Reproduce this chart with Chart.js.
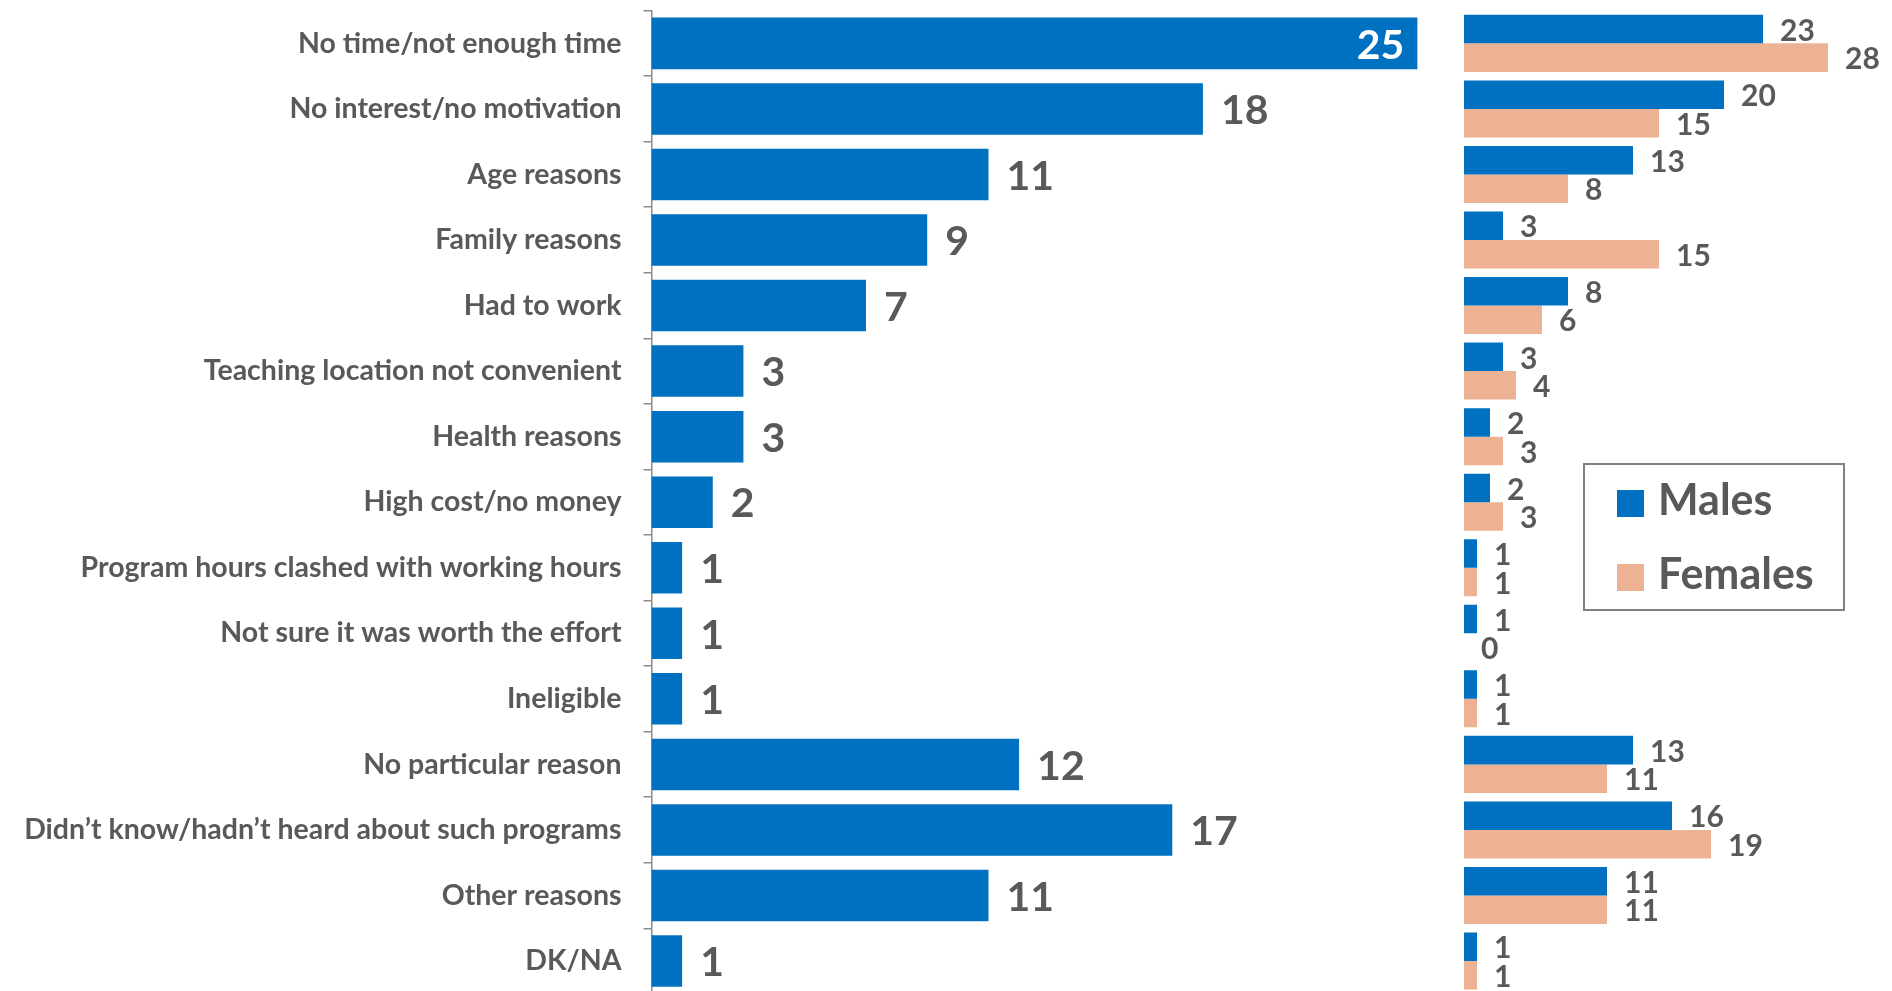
<!DOCTYPE html>
<html>
<head>
<meta charset="utf-8">
<script src="https://cdn.jsdelivr.net/npm/chart.js@4.4.1/dist/chart.umd.min.js"></script>
<style>
    html, body { margin: 0; padding: 0; background: #fff; overflow: hidden; }
    #wrap { position: relative; width: 1892px; height: 991px; overflow: hidden; }
    #totalChart { position: absolute; left: 0; top: 0; }
    #sexChart { position: absolute; left: 1444px; top: 0; }
    #legend {
        position: absolute; left: 1583px; top: 463px; width: 258px; height: 144px;
        border: 2px solid #808080; font-family: Lato, sans-serif; font-weight: bold;
        font-size: 43px; color: #595959;
    }
    #legend .item { position: absolute; left: 32px; height: 30px; line-height: 30px; }
    #legend .box { display: inline-block; width: 27px; height: 27px; vertical-align: middle; margin-right: 14px; }
</style>
</head>
<body>
<div id="wrap">
    <canvas id="totalChart" width="1448" height="1000"></canvas>
    <canvas id="sexChart" width="448" height="1000"></canvas>
    <div id="legend"></div>
</div>
<script>
const categories = [
    'No time/not enough time',
    'No interest/no motivation',
    'Age reasons',
    'Family reasons',
    'Had to work',
    'Teaching location not convenient',
    'Health reasons',
    'High cost/no money',
    'Program hours clashed with working hours',
    'Not sure it was worth the effort',
    'Ineligible',
    'No particular reason',
    'Didn’t know/hadn’t heard about such programs',
    'Other reasons',
    'DK/NA'
];
const totalValues = [25, 18, 11, 9, 7, 3, 3, 2, 1, 1, 1, 12, 17, 11, 1];
const maleValues = [23, 20, 13, 3, 8, 3, 2, 2, 1, 1, 1, 13, 16, 11, 1];
const femaleValues = [28, 15, 8, 15, 6, 4, 3, 3, 1, 0, 1, 11, 19, 11, 1];
const seriesNames = ['Males', 'Females'];

const blue = '#0070C0';
const peach = '#EDB294';
const grey = '#595959';

// value labels at the end of each bar (no datalabels plugin offline)
const valueLabels = {
    id: 'valueLabels',
    afterDatasetsDraw(chart, args, opts) {
        const ctx = chart.ctx;
        ctx.save();
        ctx.font = opts.font;
        ctx.textBaseline = 'middle';
        chart.data.datasets.forEach((ds, i) => {
            const meta = chart.getDatasetMeta(i);
            meta.data.forEach((bar, j) => {
                const txt = String(ds.data[j]);
                const w = ctx.measureText(txt).width;
                let x = bar.x + opts.offset;
                ctx.textAlign = 'left';
                ctx.fillStyle = grey;
                if (opts.inside && x + w > chart.chartArea.right) {
                    x = bar.x - opts.insidePad;
                    ctx.textAlign = 'right';
                    ctx.fillStyle = '#fff';
                }
                ctx.fillText(txt, x, bar.y + opts.dy);
            });
        });
        ctx.restore();
    }
};

Chart.defaults.font.family = 'Lato, sans-serif';
Chart.defaults.animation = false;

new Chart(document.getElementById('totalChart'), {
    type: 'bar',
    data: {
        labels: categories,
        datasets: [{ data: totalValues, backgroundColor: blue, barPercentage: 1, categoryPercentage: 0.786 }]
    },
    options: {
        indexAxis: 'y',
        responsive: false,
        layout: { padding: { top: 10.6, bottom: 6.2, left: 0, right: 0 } },
        plugins: {
            legend: { display: false },
            tooltip: { enabled: false },
            valueLabels: { font: 'bold 41px Lato', offset: 18, inside: true, insidePad: 13, dy: 2 }
        },
        scales: {
            x: { display: false, min: 0, max: 26 },
            y: {
                afterFit: s => { s.width = 651.5; s.paddingTop = 0; s.paddingBottom = 0; },
                grid: { drawOnChartArea: false, drawTicks: true, tickLength: 8, color: '#8c8c8c', lineWidth: 1.5 },
                border: { display: true, color: '#8c8c8c', width: 1.5 },
                ticks: { color: grey, padding: 22, font: { size: 28.5, weight: 'bold' } }
            }
        }
    },
    plugins: [valueLabels]
});

new Chart(document.getElementById('sexChart'), {
    type: 'bar',
    data: {
        labels: categories,
        datasets: [
            { label: seriesNames[0], data: maleValues, backgroundColor: blue, barPercentage: 1, categoryPercentage: 0.87 },
            { label: seriesNames[1], data: femaleValues, backgroundColor: peach, barPercentage: 1, categoryPercentage: 0.87 }
        ]
    },
    options: {
        indexAxis: 'y',
        responsive: false,
        layout: { padding: { top: 10.6, bottom: 6.2, left: 20, right: 38 } },
        plugins: {
            legend: { display: false },
            tooltip: { enabled: false },
            valueLabels: { font: 'bold 30px Lato', offset: 17, inside: false, dy: 2 }
        },
        scales: {
            x: { display: false, min: 0, max: 30 },
            y: { display: false }
        }
    },
    plugins: [valueLabels]
});

// legend box
const legendColors = [blue, peach];
const legendTops = [19, 93];
document.getElementById('legend').innerHTML = seriesNames.map((name, i) =>
    '<div class="item" style="top:' + legendTops[i] + 'px"><span class="box" style="background:' +
    legendColors[i] + '"></span>' + name + '</div>'
).join('');
</script>
</body>
</html>
